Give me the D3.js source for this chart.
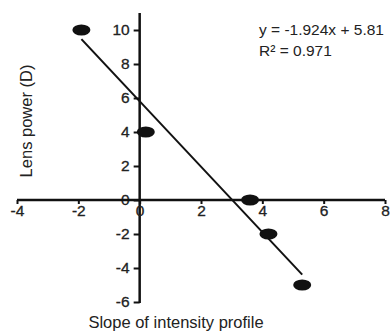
<!DOCTYPE html>
<html>
<head>
<meta charset="utf-8">
<script src="https://cdn.jsdelivr.net/npm/d3@7"></script>
<style>
  body { margin: 0; background: #fff; }
  text { font-family: "Liberation Sans", Arial, sans-serif; fill: #222; }
</style>
</head>
<body>
<div id="chart"></div>
<script>
// data
const slopeValues = [-1.9, 0.2, 3.6, 4.2, 5.3];
const lensPower = [10, 4, 0, -2, -5];
const xTicks = [-4, -2, 0, 2, 4, 6, 8];
const yTicks = [-6, -4, -2, 0, 2, 4, 6, 8, 10];
const fitSlope = -1.924;
const fitIntercept = 5.81;
const fitLabels = ['y = -1.924x + 5.81', 'R\u00b2 = 0.971'];

const width = 391, height = 334;
const svg = d3.select('#chart').append('svg')
    .attr('width', width)
    .attr('height', height);

const x = d3.scaleLinear().domain([-4, 8]).range([17, 385]);
const y = d3.scaleLinear().domain([-6, 10]).range([302, 30]);

// y axis (vertical line through x = 0)
const yAxis = svg.append('g')
    .attr('transform', `translate(${x(0)},0)`)
    .call(d3.axisLeft(y).tickValues(yTicks).tickSize(6).tickPadding(4).tickFormat(d => String(d)));
yAxis.select('.domain').attr('d', `M0,${y(10) - 17}V${y(-6) + 1}`);

// x axis (horizontal line through y = 0)
const xAxis = svg.append('g')
    .attr('transform', `translate(0,${y(0)})`)
    .call(d3.axisBottom(x).tickValues(xTicks).tickSize(4).tickPadding(1).tickFormat(d => String(d)));
xAxis.select('.domain').attr('d', `M${x(-4)},0H${x(8)}`);

svg.selectAll('.domain').attr('stroke', '#111').attr('stroke-width', 2.5);
svg.selectAll('.tick line').attr('stroke', '#111').attr('stroke-width', 2);
svg.selectAll('.tick text')
    .style('font-family', '"Liberation Sans", Arial, sans-serif')
    .style('font-size', '15.5px')
    .attr('fill', '#222')
    .attr('stroke', '#222')
    .attr('stroke-width', 0.3);

// regression line over the data range
const xMin = d3.min(slopeValues), xMax = d3.max(slopeValues);
svg.append('line')
    .attr('x1', x(xMin)).attr('y1', y(fitSlope * xMin + fitIntercept))
    .attr('x2', x(xMax)).attr('y2', y(fitSlope * xMax + fitIntercept))
    .attr('stroke', '#111')
    .attr('stroke-width', 2);

// points
svg.selectAll('.pt')
    .data(slopeValues.map((s, i) => ({ s, p: lensPower[i] })))
    .enter().append('ellipse')
    .attr('class', 'pt')
    .attr('cx', d => x(d.s))
    .attr('cy', d => y(d.p))
    .attr('rx', 9)
    .attr('ry', 5.5)
    .attr('fill', '#111');

// equation
svg.append('g').selectAll('text')
    .data(fitLabels)
    .enter().append('text')
    .attr('x', 259)
    .attr('y', (d, i) => 35 + i * 21)
    .style('font-size', '15.5px')
    .text(d => d);

// axis titles
svg.append('text')
    .attr('x', 176)
    .attr('y', 328)
    .attr('text-anchor', 'middle')
    .style('font-size', '16.5px')
    .text('Slope of intensity profile');

svg.append('text')
    .attr('transform', 'translate(32,121) rotate(-90)')
    .attr('text-anchor', 'middle')
    .style('font-size', '16.5px')
    .text('Lens power (D)');
</script>
</body>
</html>
